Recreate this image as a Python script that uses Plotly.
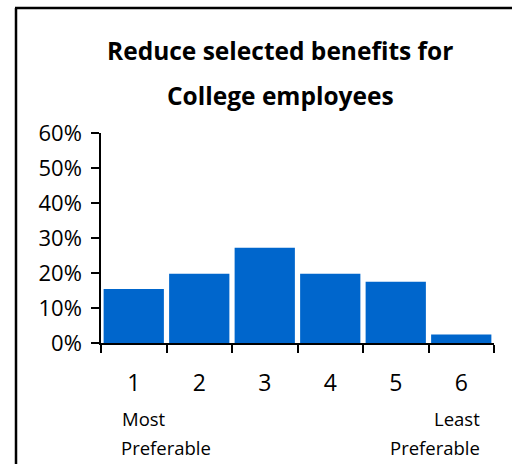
import plotly.graph_objects as go

categories = ["1", "2", "3", "4", "5", "6"]
values = [0.154, 0.198, 0.272, 0.198, 0.175, 0.024]
y_ticks = [0, 0.1, 0.2, 0.3, 0.4, 0.5, 0.6]
title_lines = ["Reduce selected benefits for", "College employees"]

W, H = 512, 464
L, R, T, B = 101, 18, 133, 121
pw, ph = W - L - R, H - T - B

def px(x):
    return (x - L) / pw

def py(y):
    return (H - B - y) / ph

fig = go.Figure(go.Bar(x=categories, y=values, marker_color="#0066CC",
                       marker_line_width=0))

font = "Open Sans"
annotations = []
for txt, yc in zip(title_lines, [50, 95]):
    annotations.append(dict(text="<b>%s</b>" % txt, x=px(280), y=py(yc), xref="paper", yref="paper",
                            xanchor="center", yanchor="middle", showarrow=False,
                            font=dict(family=font, size=24.5, color="black")))
for txt, x, anchor, yc in [("Most", 120, "left", 418), ("Preferable", 119, "left", 447),
                           ("Least", 482, "right", 418), ("Preferable", 482, "right", 447)]:
    annotations.append(dict(text=txt, x=px(x), y=py(yc), xref="paper", yref="paper",
                            xanchor=anchor, yanchor="middle", showarrow=False,
                            font=dict(family=font, size=18.5, color="black")))

fig.update_layout(
    width=W, height=H,
    margin=dict(l=L, r=R, t=T, b=B, pad=0),
    paper_bgcolor="white", plot_bgcolor="white",
    bargap=0.08, showlegend=False,
    annotations=annotations,
    font=dict(family=font, color="black"),
    xaxis=dict(type="category", range=[-0.5, 5.5], showline=True, linecolor="black",
               linewidth=1.5, ticks="outside", tickson="boundaries", ticklen=8,
               tickcolor="black", tickwidth=1.5, showgrid=False,
               tickfont=dict(size=23, family=font), ticklabelstandoff=19),
    yaxis=dict(range=[0, 0.6], tickvals=y_ticks, tickformat=".0%", showline=True,
               linecolor="black", linewidth=1.5, ticks="outside", ticklen=8,
               tickcolor="black", tickwidth=1.5, showgrid=False, zeroline=False,
               tickfont=dict(size=22, family=font), ticklabelstandoff=5),
    shapes=[
        dict(type="line", xref="paper", yref="paper", x0=px(16), x1=px(16),
             y0=py(8), y1=py(470), line=dict(color="black", width=2.5)),
        dict(type="line", xref="paper", yref="paper", x0=px(15), x1=px(520),
             y0=py(8), y1=py(8), line=dict(color="black", width=2.5)),
    ],
)

fig.write_html("out.html")
